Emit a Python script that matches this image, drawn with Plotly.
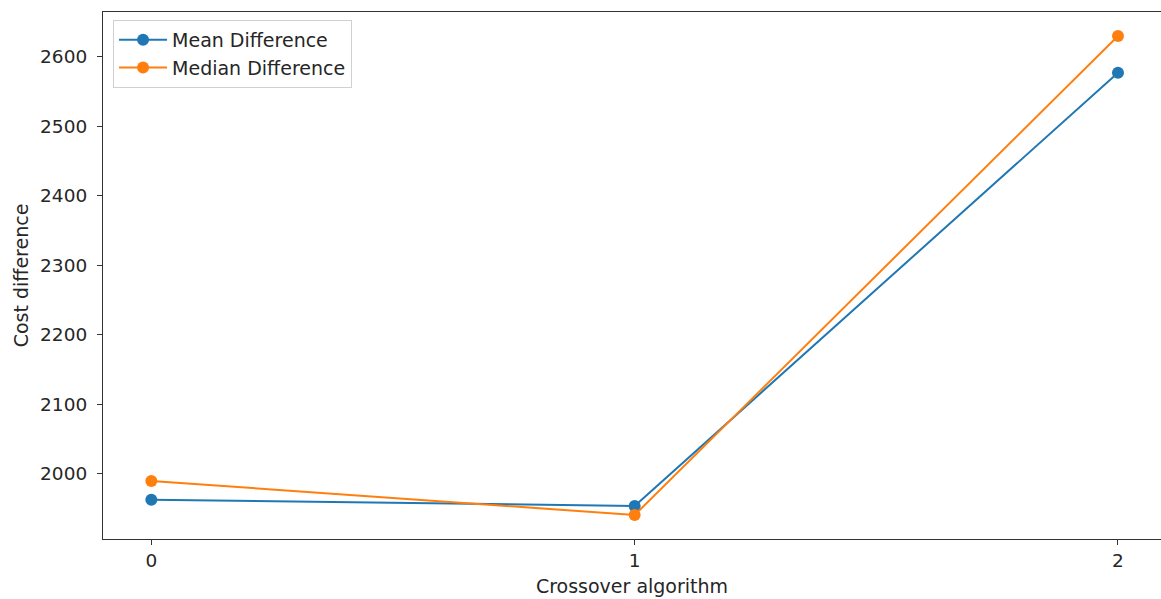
import plotly.graph_objects as go

algorithms = [0, 1, 2]
mean_diff = [1963, 1954, 2577]
median_diff = [1990, 1941, 2630]
y_ticks = [2000, 2100, 2200, 2300, 2400, 2500, 2600]

FONT = "DejaVu Sans"
FS_TICK = 18.5
FS_TXT = 19
TXT = "#262626"

fig = go.Figure()
fig.add_trace(go.Scatter(x=algorithms, y=mean_diff, mode="lines+markers",
                         name="Mean Difference",
                         line=dict(color="#1f77b4", width=2),
                         marker=dict(color="#1f77b4", size=12)))
fig.add_trace(go.Scatter(x=algorithms, y=median_diff, mode="lines+markers",
                         name="Median Difference",
                         line=dict(color="#ff7f0e", width=2),
                         marker=dict(color="#ff7f0e", size=12)))

fig.update_layout(
    width=1161, height=599,
    margin=dict(l=103, r=0, t=12, b=60),
    paper_bgcolor="white", plot_bgcolor="white",
    font=dict(family=FONT, size=FS_TICK, color=TXT),
    showlegend=True,
    legend=dict(x=0.0095, y=0.985, xanchor="left", yanchor="top",
                bgcolor="rgba(255,255,255,0.8)", bordercolor="#d0d0d0", borderwidth=1,
                font=dict(family=FONT, size=FS_TXT, color=TXT),
                itemwidth=48, tracegroupgap=0),
)
# x range chosen so the right spine falls just outside the visible page, as in the reference
fig.update_xaxes(range=[-0.1, 2.089], tickvals=algorithms, ticktext=[str(a) for a in algorithms],
                 showgrid=False, zeroline=False, showline=True, mirror=True,
                 linecolor="#333333", linewidth=1.2, ticks="outside", ticklen=5,
                 tickcolor="#333333",
                 title=dict(text="Crossover algorithm", standoff=9,
                            font=dict(family=FONT, size=FS_TXT, color=TXT)))
fig.update_yaxes(range=[1906.5, 2664.5], tickvals=y_ticks,
                 showgrid=False, zeroline=False, showline=True, mirror=False,
                 linecolor="#333333", linewidth=1.2, ticks="outside", ticklen=5,
                 tickcolor="#333333", ticklabelstandoff=6,
                 title=dict(text="Cost difference", standoff=6,
                            font=dict(family=FONT, size=FS_TXT, color=TXT)))

fig.write_html("out.html")
